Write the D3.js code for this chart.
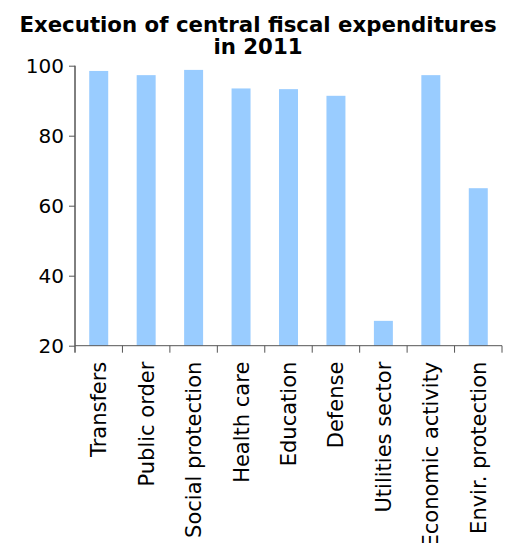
<!DOCTYPE html>
<html>
<head>
<meta charset="utf-8">
<script src="https://cdn.jsdelivr.net/npm/d3@7"></script>
<style>
  html, body { margin: 0; padding: 0; background: #fff; }
  svg { display: block; }
</style>
</head>
<body>
<svg id="chart" width="513" height="543"></svg>
<script>
// Execution rate (%) of central fiscal expenditures by function, 2011
const categories = [
  "Transfers", "Public order", "Social protection", "Health care",
  "Education", "Defense", "Utilities sector", "Economic activity",
  "Envir. protection"
];
const values = [98.5, 97.3, 98.8, 93.5, 93.3, 91.4, 27.1, 97.3, 65.0];
const yTicks = [20, 40, 60, 80, 100];
const titleLines = ["Execution of central fiscal expenditures", "in 2011"];

const svg = d3.select("#chart");
const font = "DejaVu Sans, Verdana, sans-serif";

const plot = { left: 75, right: 502, top: 65.7, bottom: 345.7 };

const x = d3.scaleBand()
  .domain(categories)
  .range([plot.left, plot.right])
  .paddingInner(0.6)
  .paddingOuter(0.3);

const y = d3.scaleLinear().domain([20, 100]).range([plot.bottom, plot.top]);

// Title
svg.append("g")
  .selectAll("text")
  .data(titleLines)
  .join("text")
  .attr("x", 258)
  .attr("y", (d, i) => 32 + i * 22)
  .attr("text-anchor", "middle")
  .attr("font-family", font)
  .attr("font-weight", "bold")
  .attr("font-size", 21.3)
  .attr("fill", "#000")
  .text(d => d);

// Bars
svg.append("g")
  .selectAll("rect")
  .data(values)
  .join("rect")
  .attr("x", (d, i) => x(categories[i]))
  .attr("width", x.bandwidth())
  .attr("y", d => y(d))
  .attr("height", d => y(20) - y(d))
  .attr("fill", "#99ccff");

// Y axis
const yAxis = svg.append("g")
  .attr("transform", `translate(${plot.left},0)`)
  .call(d3.axisLeft(y).tickValues(yTicks).tickSize(6).tickPadding(5));
yAxis.select(".domain").attr("stroke", "#000").attr("d", `M0,${plot.top}V${plot.bottom + 7}`);
yAxis.selectAll(".tick line").attr("stroke", "#555");
yAxis.selectAll(".tick text")
  .attr("font-family", font)
  .attr("font-size", 20)
  .attr("fill", "#000");

// X axis: ticks on category boundaries
const boundaries = d3.range(categories.length + 1).map(i => plot.left + i * x.step());
const xAxis = svg.append("g");
xAxis.append("line")
  .attr("x1", plot.left).attr("x2", plot.right)
  .attr("y1", plot.bottom).attr("y2", plot.bottom)
  .attr("stroke", "#555");
xAxis.selectAll("line.tick")
  .data(boundaries.slice(1))
  .join("line")
  .attr("class", "tick")
  .attr("x1", d => d).attr("x2", d => d)
  .attr("y1", plot.bottom).attr("y2", plot.bottom + 7)
  .attr("stroke", "#555");

xAxis.selectAll("text")
  .data(categories)
  .join("text")
  .attr("transform", d => `translate(${x(d) + x.bandwidth() / 2 + 7.5},${plot.bottom + 16}) rotate(-90)`)
  .attr("text-anchor", "end")
  .attr("font-family", font)
  .attr("font-size", 21)
  .attr("fill", "#000")
  .text(d => d);
</script>
</body>
</html>
